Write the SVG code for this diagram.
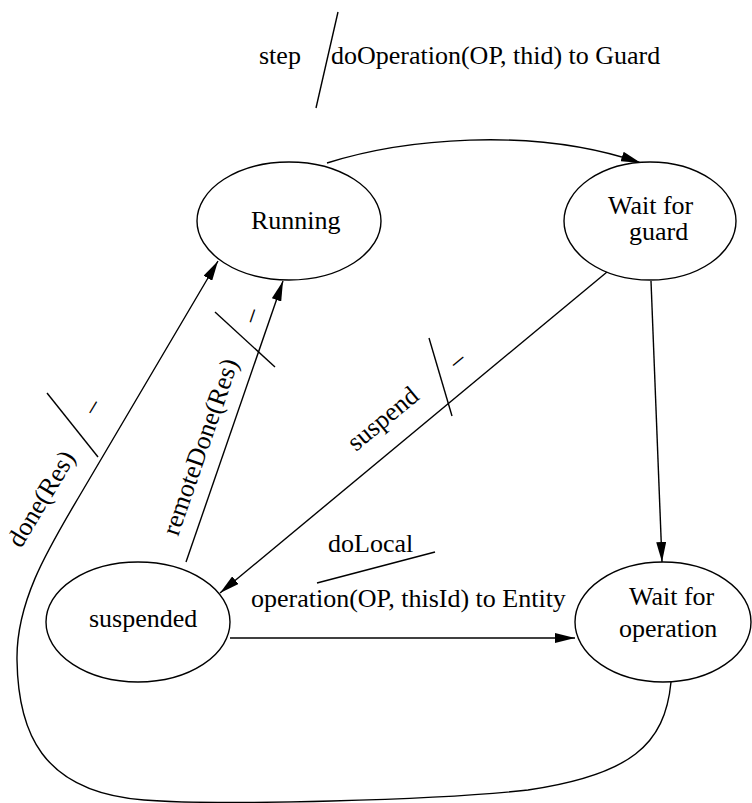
<svg xmlns="http://www.w3.org/2000/svg" width="752" height="803" viewBox="0 0 752 803">
<style>
.n{fill:#fff;stroke:#000;stroke-width:1.4}
.c{fill:none;stroke:#000;stroke-width:1.4}
.t{font-family:"Liberation Serif","Times New Roman",serif;font-size:26px;fill:#000}
</style>
<defs>
<marker id="ah" markerUnits="userSpaceOnUse" markerWidth="20" markerHeight="10" refX="20" refY="5" orient="auto">
<path d="M0,0 L20,5 L0,10 z" fill="#000"/>
</marker>
</defs>
<rect width="752" height="803" fill="#fff"/>
<g id="connectors">
<path class="c" d="M327,163 C400,140 530,125 641,163" marker-end="url(#ah)"/>
<path class="c" d="M651,281 L662,562" marker-end="url(#ah)"/>
<path class="c" d="M607,272 L220,593" marker-end="url(#ah)"/>
<path class="c" d="M230,638 L575,638" marker-end="url(#ah)"/>
<path class="c" d="M186,562 L283,281" marker-end="url(#ah)"/>
<path class="c" d="M671,682 C665,745 630,775 528,790 C440,800 220,806 144,800 C40,792 18,730 17,660 C16,600 50,546 80,495 L218,261" marker-end="url(#ah)"/>
<line class="c" x1="338" y1="12" x2="316" y2="108"/>
<line class="c" x1="435" y1="552" x2="317" y2="583"/>
<line class="c" x1="429" y1="338" x2="452" y2="416"/>
<line class="c" x1="215" y1="312" x2="275" y2="367"/>
<line class="c" x1="47" y1="393" x2="98" y2="457"/>
<text class="t" x="259" y="64">step</text>
<text class="t" x="331" y="64">doOperation(OP, thid) to Guard</text>
<text class="t" x="328" y="552">doLocal</text>
<text class="t" x="251" y="607">operation(OP, thisId) to Entity</text>
<text class="t" transform="translate(356,452) rotate(-39.7)">suspend</text>
<text class="t" transform="translate(457,370) rotate(-39.7)">–</text>
<text class="t" transform="translate(178,537) rotate(-70.9)">remoteDone(Res)</text>
<text class="t" transform="translate(256,324) rotate(-70.9)">–</text>
<text class="t" transform="translate(21,549) rotate(-59)">done(Res)</text>
<text class="t" transform="translate(95,416) rotate(-59)">–</text>
</g>
<g id="running">
<ellipse class="n" cx="289" cy="221" rx="92" ry="59"/>
<text class="t" x="251" y="229">Running</text>
</g>
<g id="wait-guard">
<ellipse class="n" cx="650" cy="221" rx="86" ry="59"/>
<text class="t" x="608" y="214">Wait for</text>
<text class="t" x="629" y="240">guard</text>
</g>
<g id="suspended">
<ellipse class="n" cx="138" cy="622" rx="92" ry="60"/>
<text class="t" x="89" y="627">suspended</text>
</g>
<g id="wait-operation">
<ellipse class="n" cx="663" cy="622" rx="88" ry="60"/>
<text class="t" x="629" y="605">Wait for</text>
<text class="t" x="619" y="637">operation</text>
</g>
</svg>
